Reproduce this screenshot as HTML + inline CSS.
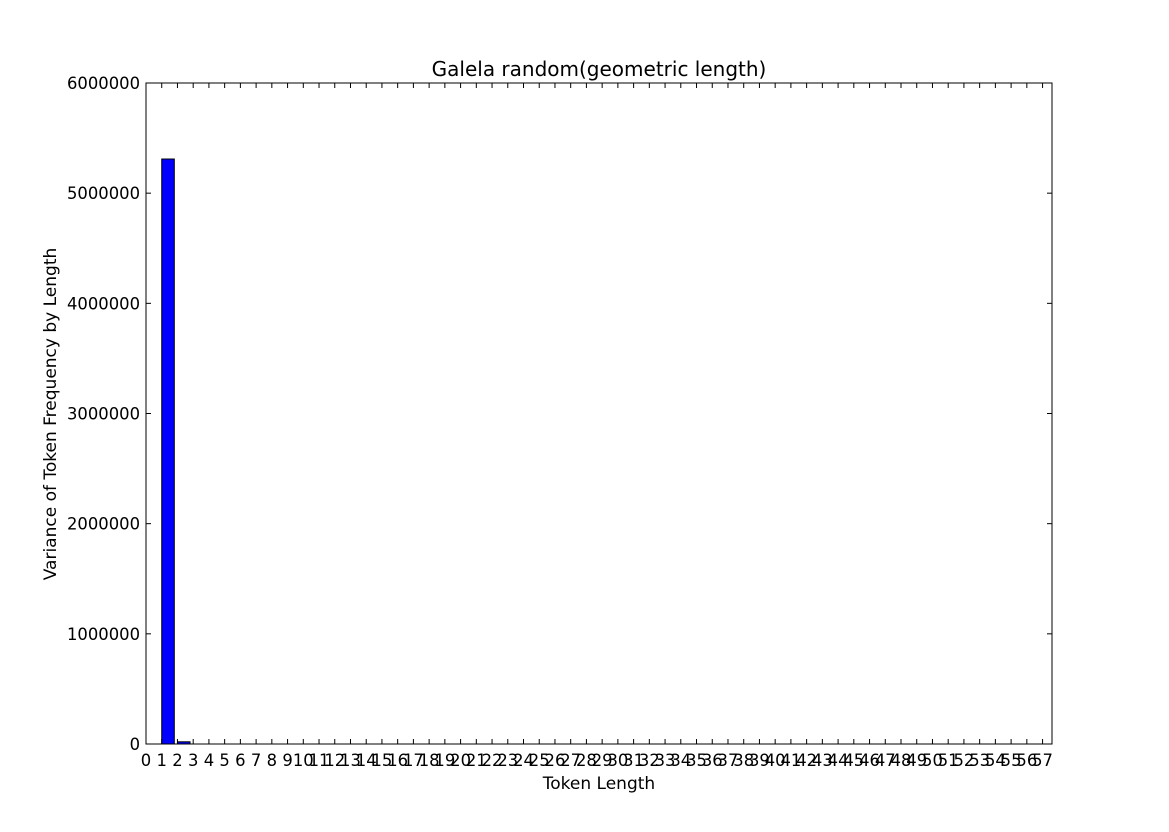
<!DOCTYPE html>
<html><head><meta charset="utf-8"><style>
body{margin:0;background:#fff;}
svg text{font-family:"DejaVu Sans","Liberation Sans",sans-serif;fill:#000;}
</style></head><body>
<svg id="chart" width="1169" height="827" xmlns="http://www.w3.org/2000/svg">
<rect width="1169" height="827" fill="#fff"/>
<g id="bars"></g>
<g id="ticks"></g>
<rect x="146" y="83" width="906" height="661" fill="none" stroke="#000" stroke-width="1"/>
<text x="599" y="76" font-size="20" text-anchor="middle">Galela random(geometric length)</text>
<text x="599" y="789" font-size="17" text-anchor="middle">Token Length</text>
<text transform="translate(56,414) rotate(-90)" font-size="17" text-anchor="middle">Variance of Token Frequency by Length</text>
</svg>
<script>
const categories = Array.from({length:57},(_,i)=>i+1);
const values = [5310000, 20000];
const yTicks = [0,1000000,2000000,3000000,4000000,5000000,6000000];
const xTicks = Array.from({length:58},(_,i)=>i);
const X0=146,X1=1052,Y0=744,Y1=83,XMAX=57.6,YMAX=6000000;
const xs=v=>X0+v/XMAX*(X1-X0);
const ys=v=>Y0-v/YMAX*(Y0-Y1);
const NS='http://www.w3.org/2000/svg';
const bars=document.getElementById('bars'),ticks=document.getElementById('ticks');
categories.forEach((c,i)=>{
  const v=values[i]||0;
  const r=document.createElementNS(NS,'rect');
  r.setAttribute('x',xs(c));r.setAttribute('width',xs(c+0.8)-xs(c));
  r.setAttribute('y',ys(v));r.setAttribute('height',Math.max(0,Y0-ys(v)));
  r.setAttribute('fill','#0000ff');r.setAttribute('stroke','#000');r.setAttribute('stroke-width','1');
  
  
  bars.appendChild(r);
});
function line(x1,y1,x2,y2){const l=document.createElementNS(NS,'line');l.setAttribute('x1',x1);l.setAttribute('y1',y1);l.setAttribute('x2',x2);l.setAttribute('y2',y2);l.setAttribute('stroke','#000');return l;}
xTicks.forEach(t=>{
  const x=xs(t);
  const a=line(x,Y0,x,Y0-5);
  
  
  ticks.appendChild(a);
  const b=line(x,Y1,x,Y1+5);
  
  
  ticks.appendChild(b);
  const tx=document.createElementNS(NS,'text');
  tx.setAttribute('x',x);tx.setAttribute('y',Y0+22);tx.setAttribute('font-size','16.4');tx.setAttribute('text-anchor','middle');
  tx.textContent=t;
  
  
  ticks.appendChild(tx);
});
yTicks.forEach(t=>{
  const y=ys(t);
  const a=line(X0,y,X0+5,y);
  
  
  ticks.appendChild(a);
  const b=line(X1,y,X1-5,y);
  
  
  ticks.appendChild(b);
  const tx=document.createElementNS(NS,'text');
  tx.setAttribute('x',X0-6);tx.setAttribute('y',y+6);tx.setAttribute('font-size','16.4');tx.setAttribute('text-anchor','end');
  tx.textContent=t;
  
  
  ticks.appendChild(tx);
});
</script>
</body></html>
